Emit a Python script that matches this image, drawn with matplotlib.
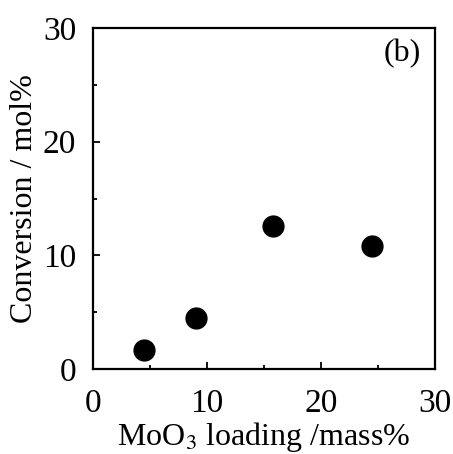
import matplotlib.pyplot as plt
from matplotlib.ticker import MultipleLocator

plt.rcParams['font.family'] = ['Liberation Serif', 'DejaVu Serif']
plt.rcParams['mathtext.fontset'] = 'stix'

# data
loading = [4.5, 9.0, 15.8, 24.5]
conversion = [1.65, 4.5, 12.6, 10.8]

fig = plt.figure(figsize=(4.53, 4.54), dpi=100)
ax = fig.add_axes([93 / 453, 1 - 369 / 454, 342 / 453, 341 / 454])

ax.plot(loading, conversion, 'o', color='black', markersize=15)

ax.set_xlim(0, 30)
ax.set_ylim(0, 30)
ax.xaxis.set_major_locator(MultipleLocator(10))
ax.xaxis.set_minor_locator(MultipleLocator(5))
ax.yaxis.set_major_locator(MultipleLocator(10))
ax.yaxis.set_minor_locator(MultipleLocator(5))
ax.tick_params(which='both', direction='in', top=False, right=False,
               labelsize=24, width=1.3)
ax.tick_params(axis='x', which='major', length=5, pad=14)
ax.tick_params(axis='y', which='major', length=5, pad=12)
ax.tick_params(which='minor', length=3)
for s in ax.spines.values():
    s.set_linewidth(1.6)

ax.set_xlabel('MoO$_3$ loading /mass%', fontsize=23, labelpad=1)
ax.set_ylabel('Conversion / mol%', fontsize=23, labelpad=3)
ax.text(0.96, 0.925, '(b)', transform=ax.transAxes, fontsize=23,
        ha='right', va='center')

fig.savefig('out.png', dpi=100)
